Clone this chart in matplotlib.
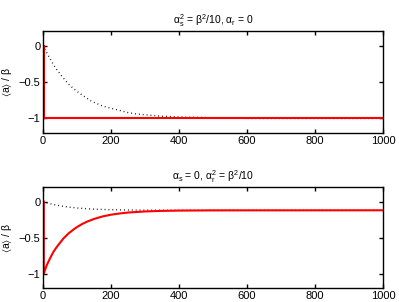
import matplotlib
matplotlib.use("Agg")
import matplotlib.pyplot as plt

plt.rcParams["font.family"] = ["Liberation Sans", "DejaVu Sans"]
plt.rcParams["mathtext.fontset"] = "custom"
plt.rcParams["mathtext.rm"] = "Liberation Sans"
plt.rcParams["mathtext.it"] = "Liberation Sans"
plt.rcParams["mathtext.default"] = "regular"

# top panel: alpha_s^2 = beta^2/10, alpha_r = 0
top_red_x = [2, 2, 1000]
top_red_y = [0, -1, -1]
top_dot_x = [0, 12, 25, 37, 50, 62, 75, 87, 100, 112, 125, 137, 150, 175, 200, 225,
             250, 275, 300, 350, 400, 500, 600, 1000]
top_dot_y = [0, -0.11, -0.22, -0.31, -0.39, -0.46, -0.53, -0.58, -0.63, -0.67,
             -0.71, -0.75, -0.78, -0.83, -0.86, -0.89, -0.92, -0.94, -0.95, -0.97,
             -0.98, -0.99, -1.0, -1.0]

# bottom panel: alpha_s = 0, alpha_r^2 = beta^2/10
bot_red_x = [2, 2, 10, 20, 30, 40, 50, 60, 75, 90, 100, 115, 130, 150, 175, 200,
             225, 250, 300, 350, 400, 500, 1000]
bot_red_y = [0, -1, -0.89, -0.79, -0.70, -0.63, -0.57, -0.51, -0.44, -0.385, -0.352,
             -0.31, -0.276, -0.24, -0.205, -0.181, -0.164, -0.151, -0.136, -0.128,
             -0.124, -0.121, -0.12]
bot_dot_x = [0, 25, 50, 75, 100, 125, 150, 200, 250, 300, 400, 1000]
bot_dot_y = [0, -0.034, -0.058, -0.076, -0.088, -0.097, -0.104, -0.112, -0.116,
             -0.118, -0.12, -0.12]

xticks = [0, 200, 400, 600, 800, 1000]
yticks = [-1, -0.5, 0]

fig = plt.figure(figsize=(3.99, 3.02), dpi=100)
ax1 = fig.add_axes([0.108, 0.5596, 0.852, 0.338])
ax2 = fig.add_axes([0.108, 0.046, 0.852, 0.334])

panels = [
    (ax1, top_red_x, top_red_y, top_dot_x, top_dot_y,
     r"$\alpha_s^2$ = $\beta^2$/10, $\alpha_r$ = 0"),
    (ax2, bot_red_x, bot_red_y, bot_dot_x, bot_dot_y,
     r"$\alpha_s$ = 0, $\alpha_r^2$ = $\beta^2$/10"),
]

for ax, rx, ry, dx, dy, title in panels:
    ax.plot(dx, dy, color="black", linestyle=(0, (0.6, 2.2)), linewidth=1.0)
    ax.plot(rx, ry, color="red", linewidth=1.5)
    ax.set_xlim(0, 1000)
    ax.set_ylim(-1.2, 0.2)
    ax.set_xticks(xticks)
    ax.set_yticks(yticks)
    ax.set_yticklabels(["\u22121", "\u22120.5", "0"])
    ax.tick_params(direction="in", top=True, right=True, length=3, width=1,
                   labelsize=8, pad=2)
    for s in ax.spines.values():
        s.set_linewidth(1.0)
    ax.set_ylabel(r"$\langle$a$\rangle$ / $\beta$", fontsize=7.5, labelpad=3)
    ax.set_title(title, fontsize=7.5, pad=5)

fig.savefig("out.png", dpi=100)
